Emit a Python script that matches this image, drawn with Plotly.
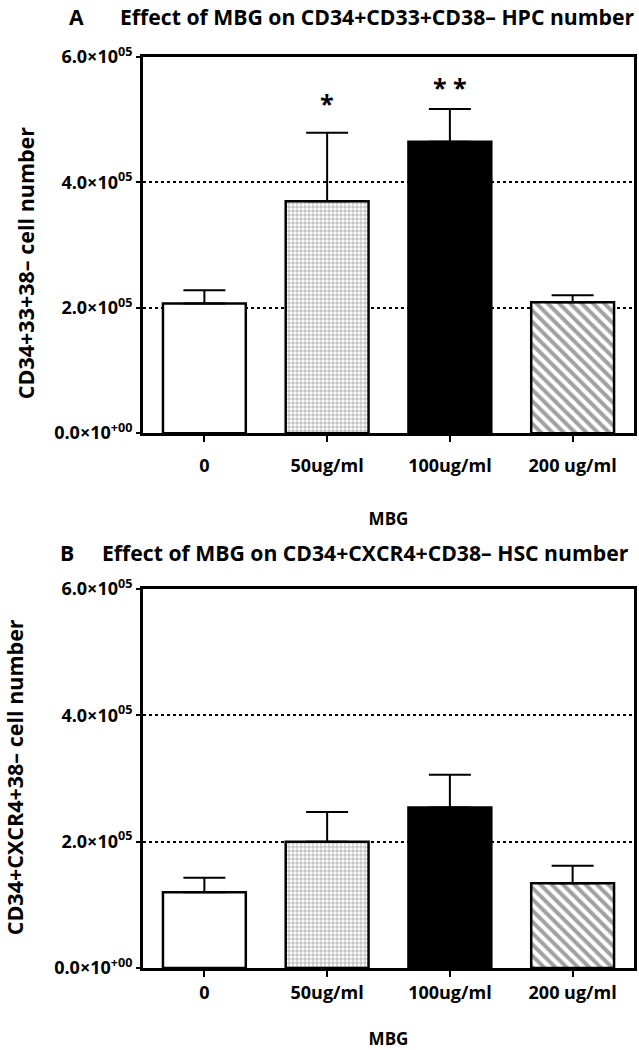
import plotly.graph_objects as go
from plotly.subplots import make_subplots

categories = ["0", "50ug/ml", "100ug/ml", "200 ug/ml"]

hpc_mean = [2.07e5, 3.70e5, 4.65e5, 2.09e5]
hpc_sem = [0.21e5, 1.09e5, 0.52e5, 0.11e5]
hpc_sig = ["", "*", "* *", ""]
hpc_sig_y = [None, 5.27e5, 5.52e5, None]

hsc_mean = [1.20e5, 2.00e5, 2.54e5, 1.34e5]
hsc_sem = [0.23e5, 0.47e5, 0.52e5, 0.28e5]

y_ticks = [0, 2e5, 4e5, 6e5]
y_ticktext = ["0.0×10<sup>+00</sup>", "2.0×10<sup>05</sup>",
              "4.0×10<sup>05</sup>", "6.0×10<sup>05</sup>"]

FONT = "Open Sans"
fills = ["white", "white", "black", "white"]
patterns = dict(
    shape=["", "+", "", "\\"],
    fgcolor=["black", "#4a4a4a", "black", "black"],
    bgcolor=["white", "white", "black", "white"],
    size=[6, 4, 6, 8],
    solidity=[0.3, 0.35, 0.3, 0.5],
)

fig = make_subplots(rows=2, cols=1, vertical_spacing=0.17)

for row, mean, sem in [(1, hpc_mean, hpc_sem), (2, hsc_mean, hsc_sem)]:
    fig.add_trace(go.Bar(
        x=categories, y=mean, width=0.675,
        marker=dict(color=fills, line=dict(color="black", width=2.5), pattern=patterns),
        error_y=dict(type="data", array=sem, arrayminus=[0] * len(sem), symmetric=False,
                     thickness=2, width=21, color="black"),
        showlegend=False,
    ), row=row, col=1)

# significance stars
for cat, s, yv in zip(categories, hpc_sig, hpc_sig_y):
    if s:
        fig.add_annotation(x=cat, y=yv, text=s, showarrow=False, xref="x", yref="y",
                           font=dict(family=FONT, size=25, color="black", weight="bold"))

tick_font = dict(family=FONT, size=18, color="black", weight="bold")
mbg_font = dict(family=FONT, size=17, color="black", weight="bold")
fig.update_xaxes(showline=True, linewidth=3, linecolor="black", mirror=True,
                 ticks="outside", ticklen=6, tickwidth=2, tickcolor="black",
                 range=[-0.5, 3.5], tickfont=tick_font, showgrid=False)
fig.update_xaxes(ticklabelstandoff=8, row=1, col=1,
                 title=dict(text="MBG", font=mbg_font, standoff=38))
fig.update_xaxes(ticklabelstandoff=0, row=2, col=1,
                 title=dict(text="MBG", font=mbg_font, standoff=33))
fig.update_yaxes(showline=True, linewidth=3, linecolor="black", mirror=True,
                 ticks="outside", ticklen=4, tickwidth=2, tickcolor="black",
                 range=[0, 6e5], tickvals=y_ticks, ticktext=y_ticktext, tickfont=tick_font,
                 ticklabelstandoff=0,
                 showgrid=True, gridcolor="black", griddash="dot", gridwidth=1.5,
                 zeroline=False)

fig.update_layout(
    width=639, height=1050,
    margin=dict(l=143, r=2, t=57, b=75),
    plot_bgcolor="white", paper_bgcolor="white",
    xaxis=dict(domain=[0, 1]), yaxis=dict(domain=[0.5871, 1]),
    xaxis2=dict(domain=[0, 1]), yaxis2=dict(domain=[0, 0.4161]),
)

title_font = dict(family=FONT, size=21.2, color="black", weight="bold")
ytitle_font = dict(family=FONT, size=21.5, color="black", weight="bold")
for label, text, ypix, lpix, tpix in [
        ("A", "Effect of MBG on CD34+CD33+CD38– HPC number", 16, 67, 118),
        ("B", "Effect of MBG on CD34+CXCR4+CD38– HSC number", 556, 57, 100)]:
    yp = (975 - ypix) / 918
    fig.add_annotation(x=(lpix - 143) / 494, y=yp, xref="paper", yref="paper", text=label,
                       showarrow=False, xanchor="left", yanchor="middle", font=title_font)
    fig.add_annotation(x=(tpix - 143) / 494, y=yp, xref="paper", yref="paper", text=text,
                       showarrow=False, xanchor="left", yanchor="middle", font=title_font)

for text, xpix, ypix in [("CD34+33+38– cell number", 25, 265),
                         ("CD34+CXCR4+38– cell number", 14, 783)]:
    fig.add_annotation(x=(xpix - 143) / 494, y=(975 - ypix) / 918, xref="paper", yref="paper",
                       text=text, textangle=-90, showarrow=False,
                       xanchor="center", yanchor="middle", font=ytitle_font)

# drop the default 8px body margin so the figure fills the window exactly
fig.write_html("out.html", config={"displayModeBar": False},
               post_script="document.body.style.margin='0';")
